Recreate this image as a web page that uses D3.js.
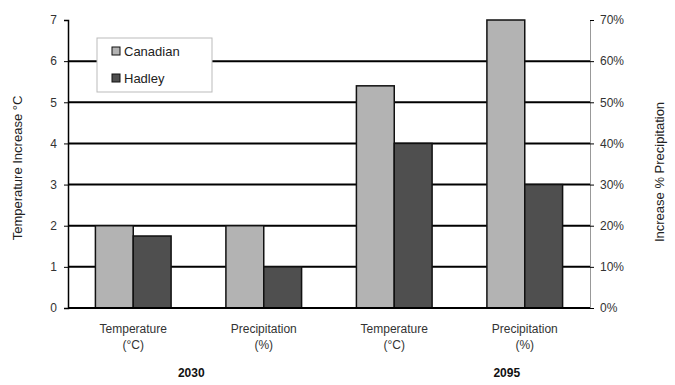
<!DOCTYPE html>
<html><head><meta charset="utf-8">
<script src="https://cdn.jsdelivr.net/npm/d3@7"></script>
<style>body{margin:0;background:#fff}text{font-family:"Liberation Sans",Arial,sans-serif}</style>
</head><body><svg id="c" width="675" height="385"></svg>
<script>
const categories = ["Temperature|(°C)", "Precipitation|(%)", "Temperature|(°C)", "Precipitation|(%)"];
const years = ["2030", "2095"];
const seriesNames = ["Canadian", "Hadley"];
const canadian = [2.0, 2.0, 5.4, 7.0];   // left-axis units (precip % /10)
const hadley = [1.75, 1.0, 4.0, 3.0];
const leftTicks = [0,1,2,3,4,5,6,7];
const rightTicks = ["0%","10%","20%","30%","40%","50%","60%","70%"];
const colors = ["#b3b3b3", "#4f4f4f"];

const svg = d3.select("#c");
const m = {l:68, r:590, t:20, b:308};
const x = d3.scaleBand().domain(d3.range(categories.length)).range([m.l, m.r]).paddingInner(0.42).paddingOuter(0.21);
const y = d3.scaleLinear().domain([0,7]).range([m.b, m.t]);
const yr = d3.scaleLinear().domain([0,70]).range([m.b, m.t]);
const xs = d3.scaleBand().domain(seriesNames).range([0, x.bandwidth()]);

// gridlines
svg.append("g").selectAll("line").data(leftTicks.filter(d=>d>0 && d<7)).join("line")
  .attr("x1", m.l).attr("x2", m.r).attr("y1", d=>y(d)).attr("y2", d=>y(d))
  .attr("stroke","#000").attr("stroke-width",2);

// axes
const la = svg.append("g").attr("transform",`translate(${m.l},0)`)
  .call(d3.axisLeft(y).tickValues(leftTicks).tickSize(4).tickFormat(d3.format("d")));
la.select(".domain").attr("stroke","#000").attr("stroke-width",1.5);
la.selectAll("text").attr("font-size",12).attr("fill","#333").attr("dx",-4);
const ra = svg.append("g").attr("transform",`translate(${m.r},0)`)
  .call(d3.axisRight(yr).tickValues(d3.range(0,80,10)).tickSize(4).tickFormat((d,i)=>rightTicks[i]));
ra.select(".domain").attr("stroke","#999").attr("stroke-width",1);
ra.selectAll("text").attr("font-size",12).attr("fill","#333").attr("dx",3);

// bars
const data = categories.map((c,i)=>({i, vals:[canadian[i], hadley[i]]}));
const g = svg.append("g");
data.forEach(d=>{
  seriesNames.forEach((s,k)=>{
    g.append("rect").attr("x", x(d.i)+xs(s)).attr("width", xs.bandwidth())
      .attr("y", y(d.vals[k])).attr("height", y(0)-y(d.vals[k]))
      .attr("fill", colors[k]).attr("stroke","#111").attr("stroke-width",1.5);
  });
});
// baseline
svg.append("line").attr("x1",m.l).attr("x2",m.r).attr("y1",y(0)).attr("y2",y(0)).attr("stroke","#000").attr("stroke-width",2);

// category labels
categories.forEach((c,i)=>{
  const parts = c.split("|");
  const t = svg.append("text").attr("text-anchor","middle").attr("font-size",12).attr("fill","#333");
  parts.forEach((p,j)=>t.append("tspan").attr("x", x(i)+x.bandwidth()/2).attr("y", 333+j*16).text(p));
});
// year labels
const yearX = [x(0)+x.bandwidth()/2+58, x(3)+x.bandwidth()/2-18];
years.forEach((yv,i)=>svg.append("text").attr("x",yearX[i]).attr("y",377).attr("text-anchor","middle")
  .attr("font-size",12).attr("font-weight","bold").attr("fill","#111").text(yv));

// axis titles
svg.append("text").attr("transform","translate(22,168) rotate(-90)").attr("text-anchor","middle")
  .attr("font-size",13).attr("fill","#222").text("Temperature Increase °C");
svg.append("text").attr("transform","translate(664,172) rotate(-90)").attr("text-anchor","middle")
  .attr("font-size",13).attr("fill","#222").text("Increase % Precipitation");

// legend
const lg = svg.append("g");
lg.append("rect").attr("x",97).attr("y",38).attr("width",115).attr("height",54).attr("fill","#fff").attr("stroke","#bbb");
seriesNames.forEach((s,k)=>{
  lg.append("rect").attr("x",112).attr("y",47+k*27).attr("width",8).attr("height",8).attr("fill",colors[k]).attr("stroke","#111");
  lg.append("text").attr("x",124).attr("y",56+k*27).attr("font-size",13).attr("fill","#222").text(s);
});
</script></body></html>
